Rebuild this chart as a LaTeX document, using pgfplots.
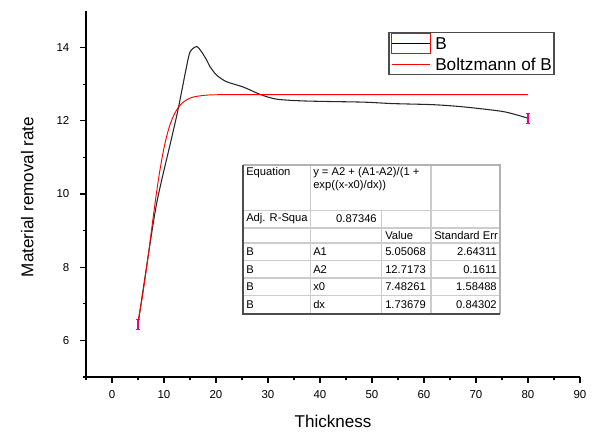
\documentclass[border=0pt]{standalone}
\usepackage{fontspec}
\setmainfont{Liberation Sans}
\usepackage{pgfplots}
\pgfplotsset{compat=1.18}

\begin{document}
\begin{tikzpicture}
\begin{axis}[
    scale only axis, width=370.5pt, height=274.5pt,
    xmin=-5, xmax=90, ymin=5, ymax=15,
    axis x line*=bottom, axis y line*=left,
    axis line style={line width=1pt},
    tick align=outside,
    xtick={0,10,...,90}, ytick={6,8,...,14},
    minor xtick={-5,5,...,85}, minor ytick={5,7,...,13},
    major tick length=4.5pt, minor tick length=2.5pt,
    every tick/.style={black, line width=0.8pt},
    tick label style={font=\fontsize{8.6}{10}\selectfont},
    /pgf/number format/assume math mode=true,
    xticklabel style={yshift=-2pt},
    yticklabel style={xshift=-4.5pt},
    xlabel={Thickness}, ylabel={Material removal rate},
    label style={font=\fontsize{12.8}{15}\selectfont},
    xlabel style={at={(axis description cs:0.5,-0.12)}, anchor=center},
    ylabel style={at={(axis description cs:-0.119,0.492)}, anchor=center},
    clip=false,
]
% measured curve
\addplot[black!85, line width=0.8pt, smooth, tension=0.45]
coordinates {
    (5,6.43) (6.35,7.73) (8.58,9.74) (11.5,11.55) (12.75,12.34)
    (14.67,13.71) (15.3,13.94) (16.3,14.03) (17.2,13.89) (18.2,13.66)
    (18.85,13.48) (20.1,13.25) (22,13.07) (25.3,12.92) (28.5,12.72)
    (31.7,12.59) (37.4,12.54) (48.3,12.51) (54,12.47) (61.8,12.44)
    (67.6,12.38) (75.3,12.25) (80,12.07)
};
% Boltzmann fit
\addplot[red, line width=0.7pt, smooth]
coordinates {
    (5,6.532) (5.5,6.906) (6,7.341) (7,8.355) (8,9.451) (9,10.460)
    (10,11.260) (11,11.824) (12,12.188) (13,12.410) (14,12.542)
    (15,12.618) (16,12.661) (18,12.699) (20,12.712) (25,12.717)
    (30,12.717) (40,12.717) (60,12.717) (80,12.717)
};
% error bars at the end points
\addplot[draw=none, mark=none,
    error bars/.cd, y dir=both, y explicit,
    error bar style={magenta, line width=0.8pt},
    error mark options={magenta, rotate=90, mark size=1.5pt, line width=0.8pt}]
coordinates {(5,6.43) +- (0,0.13) (80,12.07) +- (0,0.14)};
\end{axis}

% legend and parameter table, in pixel units of the reference
\begin{scope}[shift={(current axis.south west)}, xshift=-64.5pt, yshift=282.75pt,
    x=0.75pt, y=-0.75pt]
\path (0,0) rectangle (601,432);
% legend
\draw[black!70, line width=0.8pt, fill=white] (389,32.3) rectangle (554,74.3);
\draw[red, line width=0.6pt] (391.7,33) rectangle (430,53.3);
\draw[black, line width=0.8pt] (391.7,43.3) -- (430,43.3);
\draw[red, line width=0.8pt] (391.7,64.3) -- (430,64.3);
\begin{scope}[font=\fontsize{12.9}{14}\selectfont]
\node[anchor=west, inner sep=0pt] at (435,43.8) {B};
\node[anchor=west, inner sep=0pt] at (435,64.8) {Boltzmann of B};
\end{scope}
% table
\begin{scope}[font=\fontsize{8.4}{10}\selectfont]
\fill[white] (243,165) rectangle (500,314);
\begin{scope}[gray!40, line width=1pt]
\foreach \r in {210.7,228,243,260.5,278,295.5}
    \draw (243,\r) -- (500,\r);
\draw (310.7,165) -- (310.7,314);
\draw (381.7,210.7) -- (381.7,314);
\draw (431,165) -- (431,314);
\end{scope}
\draw[gray!60, line width=0.8pt] (243,165) -- (500,165) -- (500,314);
\draw[black!70, line width=0.8pt] (243,165) -- (243,314) -- (500,314);
\node[anchor=north west, inner sep=0pt] at (246,167) {Equation};
\node[anchor=north west, inner sep=0pt, align=left] at (313,167)
    {y = A2 + (A1-A2)/(1 +\\exp((x-x0)/dx))};
\node[anchor=west, inner sep=0pt] at (246,219) {Adj. R-Squa};
\node[anchor=east, inner sep=0pt] at (377,219) {0.87346};
\node[anchor=west, inner sep=0pt] at (385,235.5) {Value};
\node[anchor=west, inner sep=0pt] at (434,235.5) {Standard Err};
\foreach \p/\v/\e [count=\i] in {A1/5.05068/2.64311, A2/12.7173/0.1611,
        x0/7.48261/1.58488, dx/1.73679/0.84302} {
    \pgfmathsetmacro{\yy}{243+17.5*\i-8.75}
    \node[anchor=west, inner sep=0pt] at (246,\yy) {B};
    \node[anchor=west, inner sep=0pt] at (313,\yy) {\p};
    \node[anchor=west, inner sep=0pt] at (385,\yy) {\v};
    \node[anchor=east, inner sep=0pt] at (497,\yy) {\e};
}
\end{scope}
\end{scope}
\end{tikzpicture}
\end{document}
